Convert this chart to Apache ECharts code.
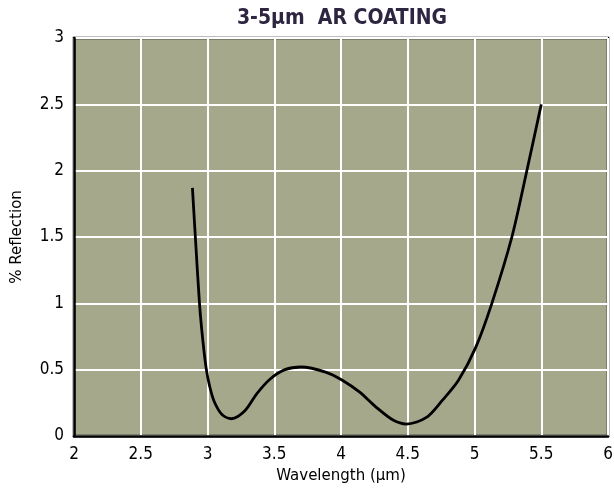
<!DOCTYPE html>
<html>
<head>
<meta charset="utf-8">
<script src="https://cdn.jsdelivr.net/npm/echarts@6/dist/echarts.min.js"></script>
<style>html,body{margin:0;padding:0;background:#fff;}#c{width:614px;height:492px;}</style>
</head>
<body>
<div id="c"></div>
<script>
const titleText = '3-5\u00b5m  AR COATING';
const xName = 'Wavelength (\u00b5m)';
const yName = '% Reflection';
const wavelength = [2.887, 2.909, 2.94, 2.965, 2.99, 3.015, 3.05, 3.11, 3.18, 3.28, 3.37, 3.47, 3.58, 3.70, 3.89, 4.01, 4.14, 4.26, 4.39, 4.49, 4.64, 4.76, 4.88, 5.01, 5.13, 5.28, 5.39, 5.50];
const reflection = [1.87, 1.50, 1.00, 0.72, 0.51, 0.38, 0.26, 0.16, 0.13, 0.19, 0.32, 0.43, 0.50, 0.52, 0.48, 0.42, 0.33, 0.22, 0.12, 0.09, 0.14, 0.27, 0.42, 0.67, 1.00, 1.50, 1.99, 2.50];

const cond = '"DejaVu Sans Condensed", "Liberation Sans Narrow", "Liberation Sans", sans-serif';
const wide = '"DejaVu Sans", Verdana, sans-serif';
const chart = echarts.init(document.getElementById('c'), null, {renderer: 'canvas'});
chart.setOption({
  animation: false,
  backgroundColor: '#ffffff',
  title: {
    text: titleText, left: 337, top: 3, textAlign: 'center',
    textStyle: {fontFamily: cond, fontWeight: 'bold', fontSize: 21, color: '#2e2640'}
  },
  grid: {left: 74, top: 38, width: 534, height: 398, containLabel: false, outerBoundsMode: 'none',
    show: true, backgroundColor: '#a5a88b', borderColor: '#000', borderWidth: 2.5},
  xAxis: {
    type: 'value', min: 2, max: 6, interval: 0.5,
    name: xName, nameLocation: 'middle', nameGap: 33,
    nameTextStyle: {fontFamily: wide, fontSize: 15, color: '#000'},
    axisLine: {show: true, onZero: false, lineStyle: {color: '#000', width: 2.5}},
    axisTick: {show: false},
    axisLabel: {fontFamily: cond, fontSize: 17, color: '#000', margin: 10},
    splitLine: {show: true, lineStyle: {color: '#ffffff', width: 2}}
  },
  yAxis: {
    type: 'value', min: 0, max: 3, interval: 0.5,
    name: yName, nameLocation: 'middle', nameGap: 49, nameRotate: 90,
    nameTextStyle: {fontFamily: wide, fontSize: 15, color: '#000'},
    axisLine: {show: true, lineStyle: {color: '#000', width: 2.5}},
    axisTick: {show: false},
    axisLabel: {fontFamily: cond, fontSize: 17, color: '#000', margin: 10},
    splitLine: {show: true, lineStyle: {color: '#ffffff', width: 2}}
  },
  series: [{
    type: 'line',
    data: wavelength.map((w, i) => [w, reflection[i]]),
    smooth: 0.3,
    showSymbol: false,
    lineStyle: {color: '#000', width: 2.8}
  }]
});
</script>
</body>
</html>
